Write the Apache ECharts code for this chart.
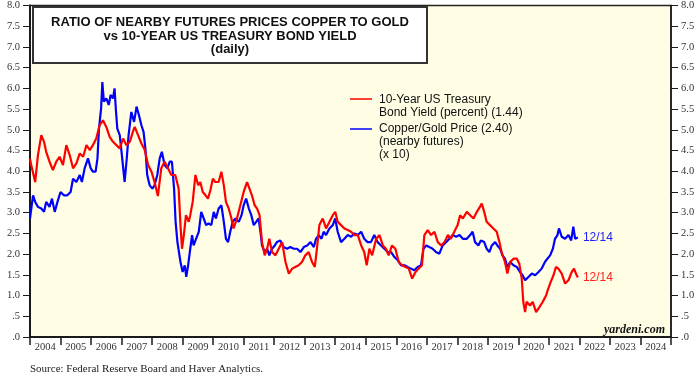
<!DOCTYPE html>
<html>
<head>
<meta charset="utf-8">
<script src="https://cdn.jsdelivr.net/npm/echarts@6/dist/echarts.min.js"></script>
<style>
html,body{margin:0;padding:0;background:#fff;}
#chart{width:700px;height:378px;}
</style>
</head>
<body>
<div id="chart"></div>
<script>
var yearLabels = ['2004','2005','2006','2007','2008','2009','2010','2011','2012','2013','2014','2015','2016','2017','2018','2019','2020','2021','2022','2023','2024'];

var redDates = [2004.00,2004.04,2004.17,2004.26,2004.37,2004.46,2004.53,2004.64,2004.75,2004.86,2004.97,2005.08,2005.19,2005.30,2005.41,2005.52,2005.63,2005.74,2005.85,2005.96,2006.06,2006.17,2006.28,2006.39,2006.50,2006.61,2006.72,2006.83,2006.94,2007.05,2007.16,2007.27,2007.37,2007.43,2007.54,2007.65,2007.76,2007.87,2007.98,2008.08,2008.19,2008.30,2008.41,2008.52,2008.63,2008.76,2008.87,2008.93,2008.98,2009.04,2009.11,2009.20,2009.25,2009.33,2009.42,2009.51,2009.58,2009.66,2009.75,2009.83,2009.91,2009.99,2010.07,2010.18,2010.27,2010.35,2010.42,2010.51,2010.60,2010.67,2010.78,2010.89,2011.00,2011.11,2011.19,2011.27,2011.36,2011.44,2011.52,2011.60,2011.69,2011.77,2011.84,2011.93,2012.04,2012.15,2012.26,2012.37,2012.48,2012.59,2012.69,2012.80,2012.91,2013.02,2013.13,2013.24,2013.33,2013.40,2013.48,2013.59,2013.70,2013.81,2013.92,2014.00,2014.08,2014.19,2014.30,2014.41,2014.52,2014.63,2014.74,2014.85,2014.95,2015.03,2015.12,2015.21,2015.34,2015.45,2015.56,2015.66,2015.75,2015.86,2015.97,2016.08,2016.19,2016.30,2016.41,2016.52,2016.63,2016.73,2016.84,2016.92,2017.03,2017.14,2017.25,2017.36,2017.47,2017.58,2017.69,2017.79,2017.90,2018.01,2018.09,2018.18,2018.31,2018.42,2018.53,2018.64,2018.74,2018.80,2018.88,2018.96,2019.07,2019.18,2019.29,2019.38,2019.45,2019.56,2019.64,2019.73,2019.84,2019.95,2020.03,2020.11,2020.16,2020.22,2020.27,2020.38,2020.47,2020.58,2020.69,2020.80,2020.91,2020.98,2021.06,2021.15,2021.23,2021.31,2021.42,2021.53,2021.64,2021.75,2021.82,2021.91,2021.95];
var redValues = [4.30,4.15,3.74,4.39,4.87,4.71,4.47,4.23,4.03,4.23,4.35,4.15,4.63,4.39,4.07,4.19,4.43,4.35,4.63,4.51,4.63,4.79,5.11,5.23,5.07,4.83,4.71,4.63,4.55,4.79,4.63,4.71,4.95,5.07,4.87,4.67,4.51,4.15,3.99,3.74,3.40,4.07,4.23,4.07,3.91,3.91,3.58,2.70,2.13,2.46,2.94,2.78,2.94,3.26,3.91,3.66,3.74,3.50,3.42,3.34,3.54,3.82,3.74,3.74,3.99,3.66,3.26,3.10,2.86,2.62,2.86,3.18,3.50,3.74,3.58,3.42,3.18,3.10,2.94,2.29,1.97,2.13,2.37,2.05,1.97,2.13,2.29,1.81,1.53,1.65,1.69,1.73,1.81,1.97,2.05,1.81,1.69,2.13,2.70,2.86,2.62,2.78,2.94,3.02,2.78,2.70,2.62,2.58,2.54,2.46,2.46,2.21,2.05,1.73,2.13,1.97,2.37,2.46,2.21,2.13,1.97,2.21,2.13,1.81,1.73,1.69,1.65,1.41,1.57,1.65,1.73,2.46,2.58,2.46,2.54,2.29,2.21,2.29,2.46,2.37,2.54,2.70,2.94,2.86,3.02,2.94,2.86,3.02,3.14,3.22,3.02,2.78,2.70,2.62,2.54,2.29,2.05,1.81,1.53,1.81,1.89,1.89,1.77,1.41,0.85,0.60,0.85,0.76,0.85,0.60,0.72,0.85,1.01,1.17,1.33,1.49,1.69,1.65,1.53,1.29,1.37,1.57,1.65,1.49,1.44];

var blueDates = [2004.00,2004.10,2004.17,2004.26,2004.37,2004.46,2004.53,2004.64,2004.72,2004.81,2004.90,2005.00,2005.11,2005.22,2005.33,2005.41,2005.52,2005.63,2005.70,2005.79,2005.90,2005.99,2006.06,2006.15,2006.21,2006.26,2006.33,2006.37,2006.42,2006.50,2006.58,2006.64,2006.72,2006.77,2006.81,2006.86,2006.94,2007.01,2007.10,2007.17,2007.23,2007.32,2007.41,2007.49,2007.57,2007.65,2007.72,2007.78,2007.84,2007.92,2008.01,2008.08,2008.17,2008.25,2008.32,2008.41,2008.50,2008.58,2008.65,2008.72,2008.77,2008.83,2008.93,2009.00,2009.07,2009.12,2009.18,2009.25,2009.31,2009.36,2009.44,2009.53,2009.61,2009.69,2009.77,2009.85,2009.94,2010.02,2010.09,2010.18,2010.27,2010.35,2010.42,2010.49,2010.56,2010.64,2010.73,2010.84,2010.93,2011.00,2011.08,2011.17,2011.25,2011.33,2011.41,2011.49,2011.55,2011.60,2011.69,2011.77,2011.84,2011.93,2012.02,2012.09,2012.20,2012.31,2012.42,2012.53,2012.64,2012.75,2012.86,2012.97,2013.08,2013.19,2013.30,2013.37,2013.46,2013.55,2013.62,2013.70,2013.81,2013.92,2014.00,2014.08,2014.19,2014.30,2014.41,2014.52,2014.63,2014.74,2014.85,2014.95,2015.06,2015.17,2015.28,2015.39,2015.50,2015.61,2015.72,2015.83,2015.94,2016.05,2016.16,2016.27,2016.37,2016.48,2016.59,2016.70,2016.81,2016.89,2016.98,2017.08,2017.19,2017.30,2017.41,2017.52,2017.63,2017.74,2017.85,2017.96,2018.07,2018.18,2018.31,2018.42,2018.50,2018.58,2018.69,2018.77,2018.88,2018.96,2019.05,2019.13,2019.24,2019.31,2019.40,2019.48,2019.56,2019.64,2019.73,2019.84,2019.95,2020.05,2020.14,2020.22,2020.33,2020.44,2020.55,2020.66,2020.76,2020.87,2020.95,2021.04,2021.13,2021.20,2021.28,2021.33,2021.42,2021.53,2021.64,2021.73,2021.80,2021.86,2021.95];
var blueValues = [2.86,3.42,3.26,3.14,3.10,3.02,3.26,3.14,3.34,3.02,3.26,3.50,3.42,3.42,3.50,3.82,3.74,3.91,3.74,4.07,4.31,4.07,3.99,3.99,4.31,5.03,5.52,6.15,5.68,5.76,5.60,5.84,5.76,6.00,5.52,5.03,4.87,4.39,3.74,4.31,4.87,5.43,5.19,5.56,5.35,5.11,4.95,4.55,3.91,3.66,3.58,3.66,3.91,4.31,4.47,4.15,4.07,4.23,4.23,3.58,2.78,2.29,1.81,1.57,1.73,1.45,1.73,2.13,2.46,2.21,2.37,2.54,3.02,2.86,2.70,2.74,2.70,3.02,2.86,3.10,3.18,2.78,2.37,2.29,2.54,2.78,2.86,2.78,2.94,3.18,3.34,3.10,2.94,2.70,2.78,2.86,2.54,2.21,2.05,2.13,1.97,2.13,2.21,2.29,2.33,2.17,2.13,2.17,2.13,2.13,2.05,2.17,2.21,2.29,2.17,2.37,2.46,2.37,2.54,2.46,2.62,2.70,2.86,2.54,2.29,2.37,2.46,2.42,2.50,2.46,2.54,2.37,2.29,2.29,2.46,2.29,2.21,2.13,2.05,2.05,1.93,1.85,1.73,1.73,1.69,1.65,1.61,1.69,1.73,2.13,2.21,2.17,2.13,2.05,2.01,2.21,2.29,2.37,2.46,2.42,2.46,2.37,2.37,2.46,2.54,2.29,2.21,2.33,2.29,2.13,2.05,2.21,2.29,2.21,2.13,1.97,1.89,1.69,1.81,1.73,1.69,1.57,1.49,1.37,1.45,1.53,1.49,1.57,1.65,1.81,1.89,1.97,2.13,2.37,2.46,2.62,2.42,2.37,2.46,2.33,2.66,2.37,2.40];

var titleLines = ['RATIO OF NEARBY FUTURES PRICES COPPER TO GOLD', 'vs 10-YEAR US TREASURY BOND YIELD', '(daily)'];
var redLegend = ['10-Year US Treasury', 'Bond Yield (percent) (1.44)'];
var blueLegend = ['Copper/Gold Price (2.40)', '(nearby futures)', '(x 10)'];
var endLabelText = '12/14';

function zip(a, b) { return a.map(function (v, i) { return [v, b[i]]; }); }
function yFmt(v) { if (v === 0) return '.0'; if (v === 0.5) return '.5'; return v.toFixed(1); }

var chart = echarts.init(document.getElementById('chart'), null, { renderer: 'canvas' });
var serif = 'Liberation Serif';
var sans = 'Liberation Sans';
var axisColor = '#1a1a1a';

function yAxisCfg(pos) {
  return {
    type: 'value', position: pos, min: 0, max: 8, interval: 0.5,
    axisLine: { show: true, onZero: false, lineStyle: { color: axisColor, width: pos === 'left' ? 2 : 1.5 } },
    axisTick: { show: true, inside: false, length: 7, lineStyle: { color: axisColor, width: 1 } },
    axisLabel: { formatter: yFmt, fontFamily: serif, fontSize: 10.5, color: '#333', margin: 10 },
    splitLine: { show: false }
  };
}

var titleCx = 230;
var option = {
  animation: false,
  backgroundColor: '#ffffff',
  grid: { left: 30, right: 29, top: 5, bottom: 41, show: true, backgroundColor: '#FFFEE4', borderColor: '#222', borderWidth: 1.5 },
  xAxis: [
    {
      type: 'category', data: yearLabels, boundaryGap: true, position: 'bottom',
      axisLine: { show: true, lineStyle: { color: axisColor, width: 2 } },
      axisTick: { show: true, length: 8, interval: 0, lineStyle: { color: axisColor, width: 1.5 } },
      axisLabel: { interval: 0, fontFamily: serif, fontSize: 10.5, color: '#333', margin: 5 }
    },
    { type: 'value', min: 2004, max: 2025, show: false }
  ],
  yAxis: [yAxisCfg('left'), yAxisCfg('right')],
  series: [
    {
      name: blueLegend.join(' '), type: 'line', xAxisIndex: 1, yAxisIndex: 0,
      data: zip(blueDates, blueValues), showSymbol: false, silent: true,
      lineStyle: { color: '#0000FF', width: 2.2 },
      endLabel: { show: true, formatter: endLabelText, color: '#2020FF', fontFamily: sans, fontSize: 12, distance: 5 }
    },
    {
      name: redLegend.join(' '), type: 'line', xAxisIndex: 1, yAxisIndex: 0,
      data: zip(redDates, redValues), showSymbol: false, silent: true,
      lineStyle: { color: '#FF0000', width: 2.2 },
      endLabel: { show: true, formatter: endLabelText, color: '#FF2020', fontFamily: sans, fontSize: 12, distance: 5 }
    }
  ],
  graphic: [
    { type: 'rect', shape: { x: 33, y: 7, width: 394, height: 56 }, style: { fill: '#ffffff', stroke: '#333', lineWidth: 2 } },
    { type: 'text', x: titleCx, y: 22.3, style: { text: titleLines[0], fill: '#111', font: 'bold 13px "Liberation Sans"', textAlign: 'center', textVerticalAlign: 'middle' } },
    { type: 'text', x: titleCx, y: 36, style: { text: titleLines[1], fill: '#111', font: 'bold 13px "Liberation Sans"', textAlign: 'center', textVerticalAlign: 'middle' } },
    { type: 'text', x: titleCx, y: 49.5, style: { text: titleLines[2], fill: '#111', font: 'bold 13px "Liberation Sans"', textAlign: 'center', textVerticalAlign: 'middle' } },
    { type: 'line', shape: { x1: 350, y1: 99, x2: 372, y2: 99 }, style: { stroke: '#FF0000', lineWidth: 1.5 } },
    { type: 'text', x: 379, y: 100, style: { text: redLegend[0], fill: '#111', font: '12px "Liberation Sans"', textVerticalAlign: 'middle' } },
    { type: 'text', x: 379, y: 112.5, style: { text: redLegend[1], fill: '#111', font: '12px "Liberation Sans"', textVerticalAlign: 'middle' } },
    { type: 'line', shape: { x1: 350, y1: 129, x2: 372, y2: 129 }, style: { stroke: '#0000FF', lineWidth: 1.5 } },
    { type: 'text', x: 379, y: 129, style: { text: blueLegend[0], fill: '#111', font: '12px "Liberation Sans"', textVerticalAlign: 'middle' } },
    { type: 'text', x: 379, y: 142, style: { text: blueLegend[1], fill: '#111', font: '12px "Liberation Sans"', textVerticalAlign: 'middle' } },
    { type: 'text', x: 379, y: 155, style: { text: blueLegend[2], fill: '#111', font: '12px "Liberation Sans"', textVerticalAlign: 'middle' } },
    { type: 'text', x: 665, y: 330, style: { text: 'yardeni.com', fill: '#111', font: 'italic bold 12px "Liberation Serif"', textAlign: 'right', textVerticalAlign: 'middle' } },
    { type: 'text', x: 30, y: 369, style: { text: 'Source: Federal Reserve Board and Haver Analytics.', fill: '#222', font: '11px "Liberation Serif"', textVerticalAlign: 'middle' } }
  ]
};
chart.setOption(option);
</script>
</body>
</html>
